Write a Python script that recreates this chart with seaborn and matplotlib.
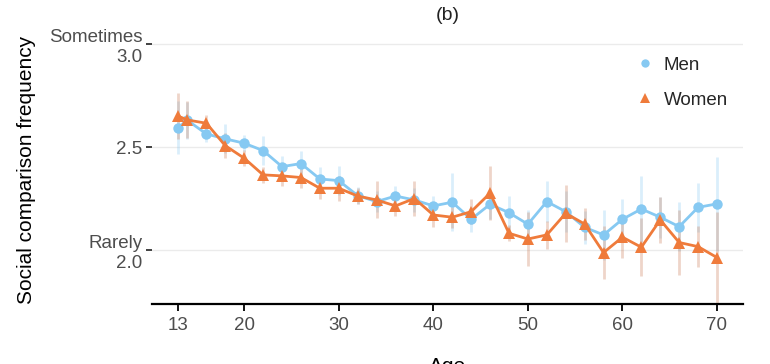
import matplotlib
matplotlib.use("Agg")
import matplotlib.pyplot as plt
from matplotlib.lines import Line2D
import numpy as np
import pandas as pd
import seaborn as sns

# ---- data -------------------------------------------------------------
ages = [13, 14, 16, 18, 20, 22, 24, 26, 28, 30, 32, 34, 36, 38, 40,
        42, 44, 46, 48, 50, 52, 54, 56, 58, 60, 62, 64, 66, 68, 70]
men_mean = [2.595, 2.630, 2.564, 2.540, 2.519, 2.483, 2.405, 2.420, 2.345, 2.337,
            2.264, 2.235, 2.262, 2.243, 2.214, 2.232, 2.149, 2.222, 2.181, 2.125,
            2.235, 2.186, 2.110, 2.073, 2.149, 2.199, 2.159, 2.113, 2.207, 2.224]
women_mean = [2.651, 2.632, 2.616, 2.507, 2.446, 2.365, 2.360, 2.352, 2.300, 2.300,
              2.262, 2.243, 2.214, 2.250, 2.170, 2.159, 2.186, 2.276, 2.081, 2.053,
              2.073, 2.178, 2.126, 1.987, 2.062, 2.013, 2.146, 2.036, 2.016, 1.963]
men_err = [0.13, 0.09, 0.04, 0.07, 0.04, 0.07, 0.05, 0.06, 0.06, 0.07,
           0.04, 0.05, 0.05, 0.06, 0.05, 0.14, 0.06, 0.07, 0.08, 0.07,
           0.10, 0.10, 0.08, 0.12, 0.10, 0.16, 0.10, 0.12, 0.12, 0.23]
women_err = [0.11, 0.09, 0.04, 0.06, 0.04, 0.04, 0.05, 0.05, 0.05, 0.06,
             0.04, 0.09, 0.05, 0.085, 0.06, 0.05, 0.06, 0.13, 0.04, 0.13,
             0.07, 0.14, 0.08, 0.13, 0.10, 0.14, 0.11, 0.16, 0.10, 0.22]
groups = ["Men", "Women"]
x_ticks = [13, 20, 30, 40, 50, 60, 70]
y_ticks = [2.0, 2.5, 3.0]
y_ticklabels = ["Rarely\n2.0", "2.5", "Sometimes\n3.0"]

# ---- table ------------------------------------------------------------
df = pd.concat([
    pd.DataFrame({"age": ages, "freq": men_mean, "err": men_err, "sex": "Men"}),
    pd.DataFrame({"age": ages, "freq": women_mean, "err": women_err, "sex": "Women"}),
], ignore_index=True)

colors = {"Men": "#86C9F2", "Women": "#EF7B3B"}
err_colors = {"Men": "#86C9F2", "Women": "#C9764E"}
markers = {"Men": "o", "Women": "^"}
msizes = {"Men": 7.5, "Women": 9.0}

sns.set_theme(style="white")
plt.rcParams["font.family"] = ["Liberation Sans", "DejaVu Sans"]

W, H = 770, 364
fig = plt.figure(figsize=(W / 100, H / 100), dpi=100)
ax = fig.add_axes([152 / W, 60 / H, 591 / W, 270 / H])

# grid
for yv in y_ticks:
    ax.axhline(yv, color="#EBEBEB", lw=1.0, zorder=0)

# error bars
for s in groups:
    sub = df[df.sex == s]
    ax.vlines(sub.age, sub.freq - sub.err, sub.freq + sub.err,
              color=err_colors[s], alpha=0.3, lw=2.0, zorder=1)

# lines + markers
for s in groups:
    sub = df[df.sex == s]
    sns.lineplot(data=sub, x="age", y="freq", color=colors[s], marker=markers[s],
                 markersize=msizes[s], markeredgewidth=0, linewidth=2.0,
                 ax=ax, legend=False, zorder=3)

ax.set_xlim(10.25, 72.75)
ax.set_ylim(1.737, 3.05)
ax.set_xticks(x_ticks)
ax.set_xticklabels([str(v) for v in x_ticks])
ax.set_yticks(y_ticks)
ax.set_yticklabels(y_ticklabels)
ax.set_xlabel("")
ax.set_ylabel("")

for sp in ["left", "top", "right"]:
    ax.spines[sp].set_visible(False)
ax.spines["bottom"].set_color("black")
ax.spines["bottom"].set_linewidth(1.6)

ax.tick_params(axis="x", which="major", direction="out", length=5, width=1.3,
               color="black", labelcolor="#4D4D4D", labelsize=13.5, pad=4, bottom=True)
ax.tick_params(axis="y", which="major", direction="out", length=4, width=1.3,
               color="#333333", labelcolor="#4D4D4D", labelsize=13.5, pad=3, left=True)

# legend
handles = [Line2D([], [], color=colors[s], marker=markers[s], linestyle="none",
                  markersize=msizes[s] * 0.8, markeredgewidth=0) for s in groups]
fig.legend(handles, groups, loc="upper left", bbox_to_anchor=(626 / W, 1 - 47 / H),
           frameon=False, fontsize=13.5, handlelength=1.0, handletextpad=0.5,
           labelspacing=0.98, borderpad=0)

# titles / labels
fig.text(447.5 / W, 1 - 15 / H, "(b)", ha="center", va="center", fontsize=14, color="#222222")
fig.text(27 / W, 1 - 170 / H, "Social comparison frequency", rotation=90,
         ha="center", va="center", fontsize=15, color="black")
fig.text(447.5 / W, 1 - 357 / H, "Age", ha="center", va="top", fontsize=15, color="black")

fig.savefig("out.png", dpi=100)
